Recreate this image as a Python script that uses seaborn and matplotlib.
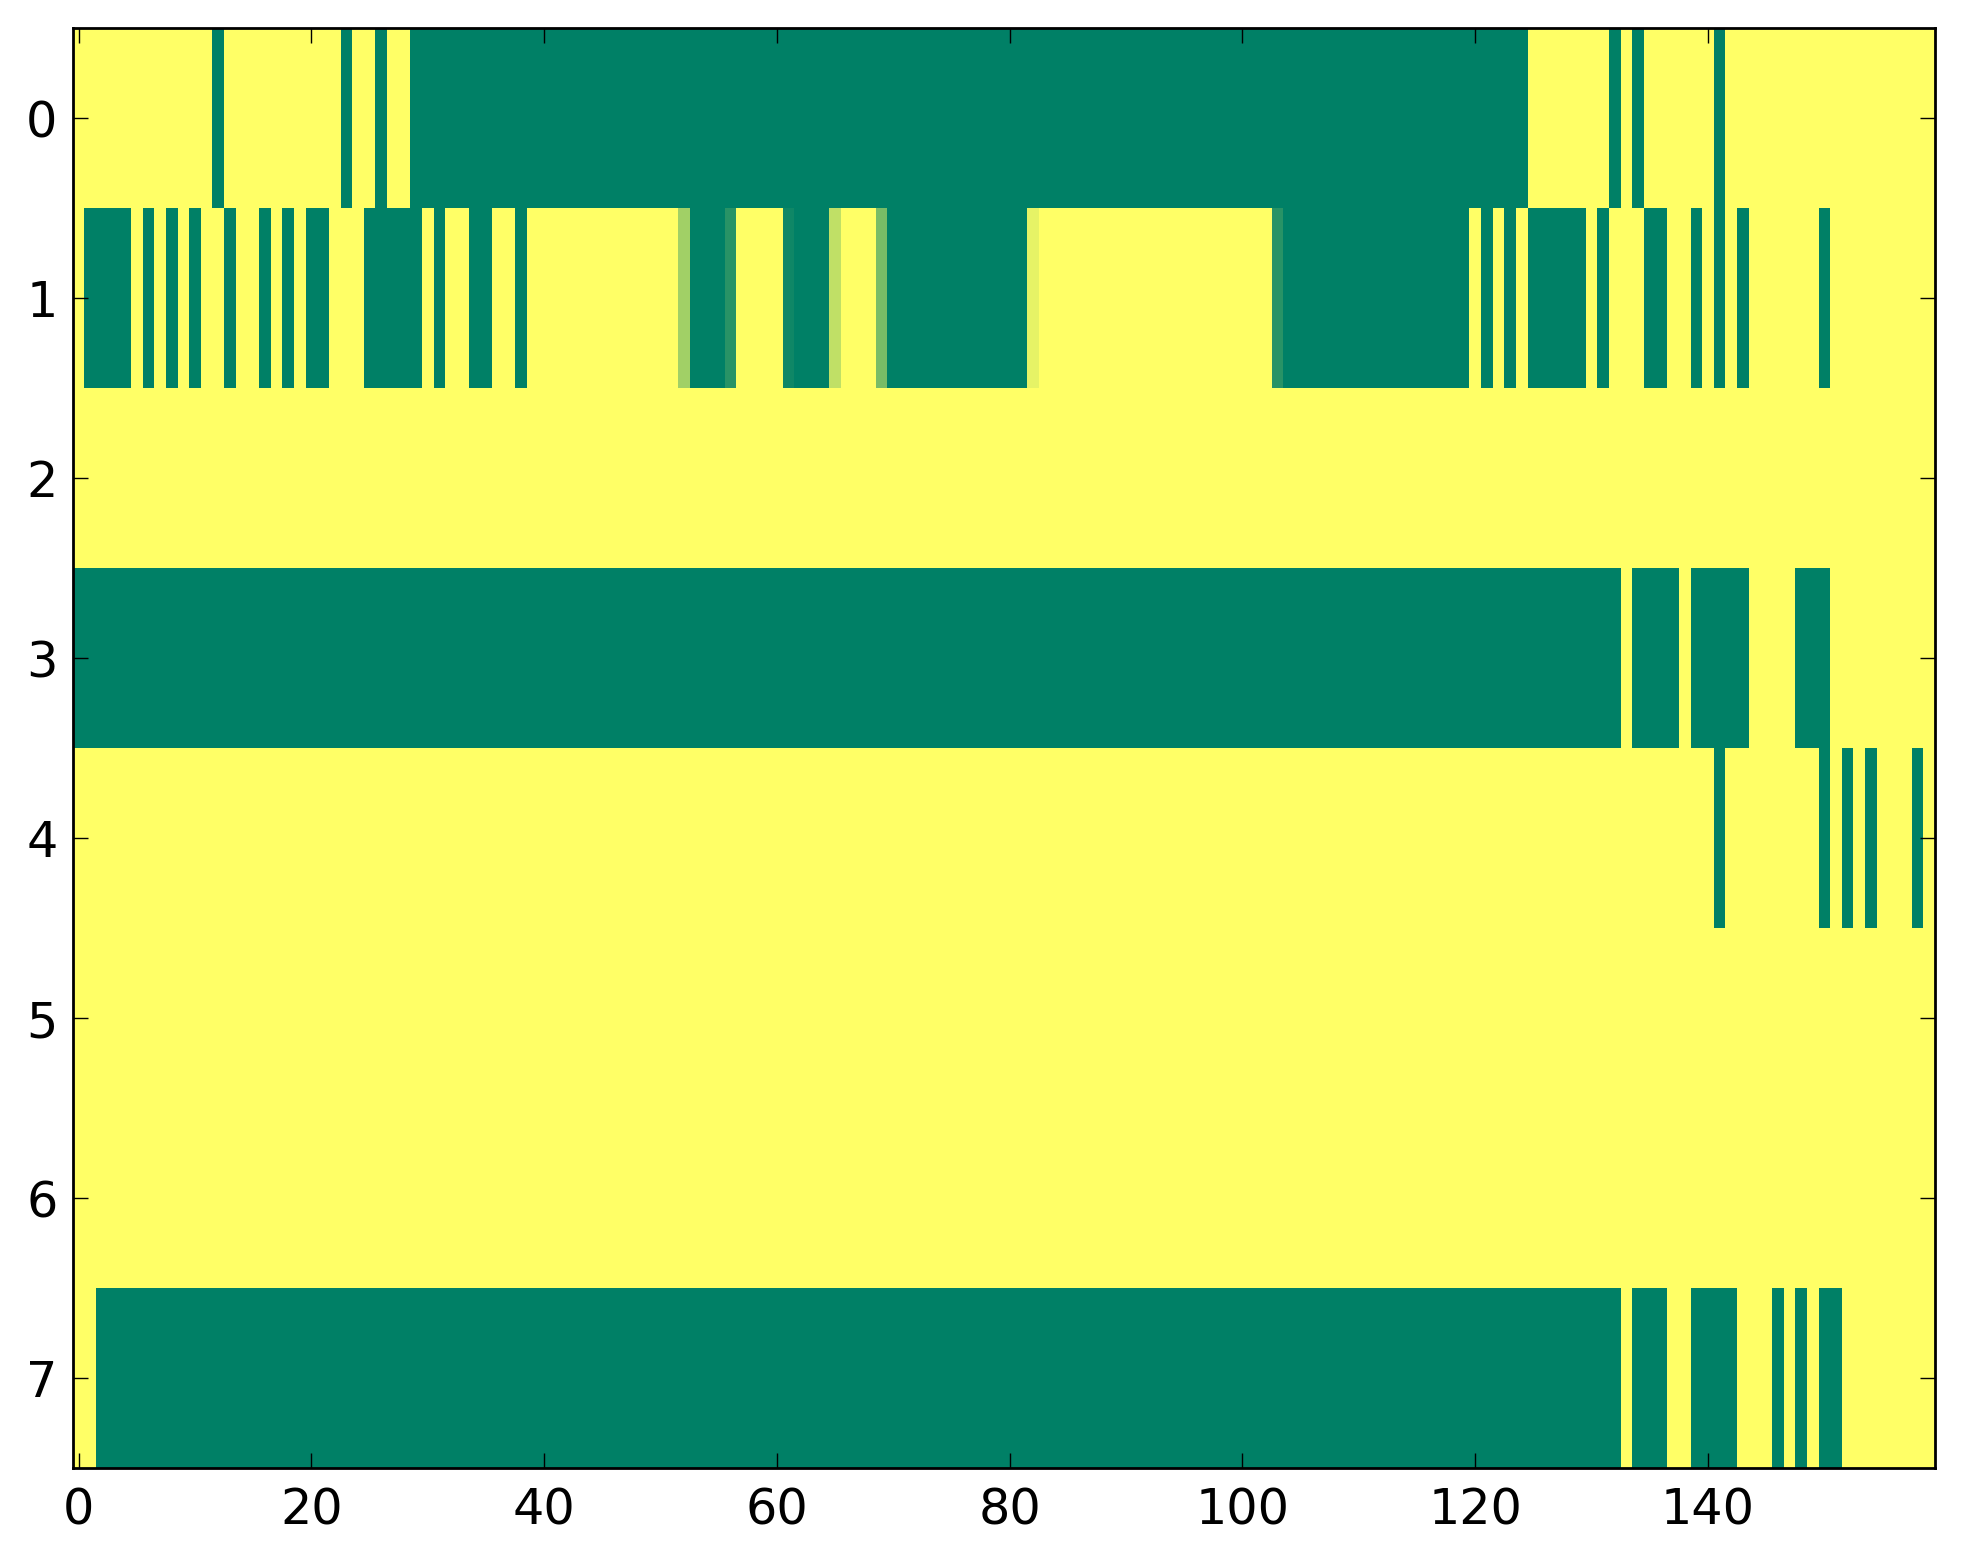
import numpy as np
import pandas as pd
import matplotlib
matplotlib.use("Agg")
import matplotlib.pyplot as plt
import seaborn as sns

# ---- data ----
n_cols = 160
row_labels = ["0", "1", "2", "3", "4", "5", "6", "7"]
x_tick_values = [0, 20, 40, 60, 80, 100, 120, 140]

# columns at value 0 (dark green); single index or inclusive (start, end) runs
row0_dark = [12, 23, 26, (29, 124), 132, 134, 141]
row1_dark = [(1, 4), 6, 8, 10, 13, 16, 18, (20, 21), (25, 29), 31, (34, 35), 38,
             (53, 55), (62, 64), (70, 81), (104, 119), 121, 123, (125, 129), 131,
             (135, 136), 139, 141, 143, 150]
row2_dark = []
row3_dark = [(0, 132), (134, 137), (139, 143), (148, 150)]
row4_dark = [141, 150, 152, 154, 158]
row5_dark = []
row6_dark = []
row7_dark = [(2, 132), (134, 136), (139, 142), 146, 148, (150, 151)]

# intermediate cells in row 1 (column: value)
row1_partial = {52: 0.63, 56: 0.16, 61: 0.06, 65: 0.75, 69: 0.47, 82: 0.90, 103: 0.16}

rows_dark = [row0_dark, row1_dark, row2_dark, row3_dark,
             row4_dark, row5_dark, row6_dark, row7_dark]

data = np.ones((len(row_labels), n_cols))
for r, runs in enumerate(rows_dark):
    for item in runs:
        if isinstance(item, tuple):
            data[r, item[0]:item[1] + 1] = 0.0
        else:
            data[r, item] = 0.0
for c, v in row1_partial.items():
    data[1, c] = v

df = pd.DataFrame(data, index=row_labels, columns=range(n_cols))

# ---- plot ----
fig = plt.figure(figsize=(19.63, 15.64), dpi=100)
ax = fig.add_axes([0.0371, 0.0612, 0.9486, 0.9207])
sns.heatmap(df, cmap="summer", vmin=0, vmax=1, cbar=False, ax=ax,
            xticklabels=False, yticklabels=False)

ax.set_xticks(np.array(x_tick_values) + 0.5)
ax.set_xticklabels([str(v) for v in x_tick_values], rotation=0)
ax.set_yticks(np.arange(len(row_labels)) + 0.5)
ax.set_yticklabels(row_labels, rotation=0)

for s in ax.spines.values():
    s.set_visible(True)
    s.set_linewidth(2.0)
    s.set_color("black")

ax.tick_params(direction="in", top=True, right=True, length=11, width=1.0,
               labelsize=35.5, colors="black")
ax.tick_params(axis="x", pad=13)
ax.tick_params(axis="y", pad=11)
ax.set_xlabel("")
ax.set_ylabel("")

fig.savefig("out.png", dpi=100)
